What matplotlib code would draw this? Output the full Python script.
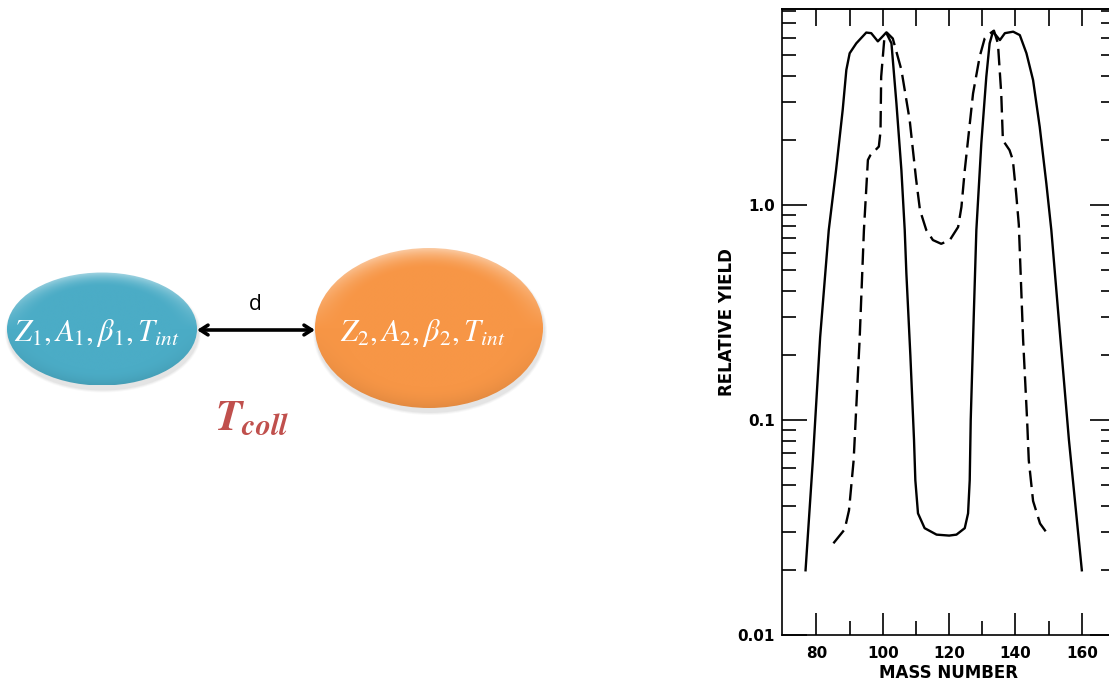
import numpy as np
import matplotlib
matplotlib.use("Agg")
import matplotlib.pyplot as plt
from matplotlib.patches import Ellipse
from matplotlib.ticker import FixedLocator, LogLocator, NullFormatter
import matplotlib.colors as mcolors

plt.rcParams['mathtext.fontset'] = 'stix'

# ---- data ----
solid_mass = [76.7, 78.9, 81.1, 83.7, 85.9, 87.9, 89.0, 90.0, 92.0, 95.0, 96.5,
              98.5, 100.0, 101.0, 102.6, 104.1, 105.6, 106.6, 107.1, 108.3,
              109.4, 109.8, 110.6, 112.6, 116.2, 120.0, 122.2, 124.7, 125.7,
              126.2, 126.5, 127.4, 128.2, 129.7, 131.2, 132.2, 133.2, 135.3,
              136.8, 139.3, 141.3, 143.3, 145.3, 147.3, 149.3, 150.8, 153.0,
              156.1, 160.0]
solid_yield = [0.02, 0.065, 0.243, 0.765, 1.455, 2.77, 4.25, 5.08, 5.65, 6.34,
               6.3, 5.77, 6.1, 6.34, 5.65, 2.97, 1.45, 0.765, 0.48, 0.2,
               0.081, 0.0525, 0.0368, 0.0314, 0.0293, 0.029, 0.0293, 0.0314,
               0.0368, 0.0525, 0.1, 0.3, 0.765, 1.94, 3.95, 5.65, 6.4, 5.85,
               6.3, 6.4, 6.17, 5.08, 3.81, 2.31, 1.26, 0.765, 0.3,
               0.081, 0.02]

dash_mass = [85.1, 88.5, 89.8, 91.2, 93.0, 94.3, 95.5, 96.2, 98.8, 99.3, 99.5,
             100.5, 101.2, 103.0, 105.6, 108.1, 110.0, 111.2, 113.1, 115.1,
             117.6, 120.2, 122.7, 123.7, 124.7, 127.2, 129.2, 130.7, 131.8,
             133.5, 134.7, 135.7, 136.2, 138.2, 139.2, 140.2, 141.0, 142.3,
             143.5, 144.0, 145.3, 147.4, 150.3]
dash_yield = [0.0267, 0.031, 0.038, 0.065, 0.236, 0.765, 1.62, 1.7, 1.87, 2.2,
              3.95, 6.06, 6.34, 5.95, 4.25, 2.48, 1.33, 0.947, 0.765, 0.687,
              0.66, 0.687, 0.79, 0.98, 1.45, 3.3, 4.9, 5.95, 6.2,
              6.47, 5.65, 3.3, 2.0, 1.8, 1.62, 1.13, 0.81, 0.236,
              0.1, 0.065, 0.042, 0.033, 0.0286]

x_major = [80, 100, 120, 140, 160]
x_minor = [90, 110, 130, 150]
x_top = [80, 90, 100, 110, 120, 130, 140, 150, 160]
y_major = [0.01, 0.1, 1.0]
y_major_labels = ['0.01', '0.1', '1.0']

W, H = 1109, 682
fig = plt.figure(figsize=(W / 100, H / 100), dpi=100)

# ---- left: nuclei sketch, drawn in pixel coordinates ----
bg = fig.add_axes([0, 0, 1, 1])
bg.axis('off')


def shaded_ellipse(ax, cx, cy, w, h, base):
    # soft shadow under the body
    for k, a in [(6, 0.05), (4, 0.07), (2, 0.09)]:
        ax.add_patch(Ellipse((cx + 1, cy + 4), w + k, h + k, color='gray',
                             alpha=a, lw=0, zorder=1))
    n = 300
    xs = np.linspace(-1, 1, n)
    X, Y = np.meshgrid(xs, xs)
    r = np.sqrt(X ** 2 + Y ** 2)
    rim = np.clip((r - 0.75) / 0.25, 0, 1) ** 1.6
    rgb = np.array(mcolors.to_rgb(base))
    img = np.ones((n, n, 3)) * rgb
    light = (rim * np.clip(-Y, 0, 1) * 0.5)[..., None]
    dark = (rim * np.clip(Y, 0, 1) * 0.08)[..., None]
    img = img + (1 - img) * light
    img = img * (1 - dark)
    el = Ellipse((cx, cy), w, h, facecolor='none', edgecolor='none', zorder=2)
    ax.add_patch(el)
    im = ax.imshow(img, extent=(cx - w / 2, cx + w / 2, cy + h / 2, cy - h / 2),
                   origin='upper', interpolation='bilinear', zorder=2)
    im.set_clip_path(el)


shaded_ellipse(bg, 102, 329, 190, 113, '#4BACC6')
shaded_ellipse(bg, 429, 328, 228, 160, '#F79646')
bg.set_aspect('auto')
bg.set_xlim(0, W)
bg.set_ylim(H, 0)

bg.text(97, 333, r'$Z_1,A_1,\beta_1,T_{int}$', color='white', fontsize=22,
        ha='center', va='center', zorder=3)
bg.text(423, 333, r'$Z_2,A_2,\beta_2,T_{int}$', color='white', fontsize=22,
        ha='center', va='center', zorder=3)
bg.annotate('', xy=(197, 330), xytext=(315, 330),
            arrowprops=dict(arrowstyle='<->,head_length=0.55,head_width=0.35',
                            lw=2.6, color='black', shrinkA=0, shrinkB=0))
bg.text(255, 305, 'd', fontsize=15, family='Open Sans', ha='center', va='center')
bg.text(252, 418, r'$\mathbfit{T}_{\mathbfit{coll}}$', color='#C0504D',
        fontsize=31, ha='center', va='center')

# ---- right: relative yield vs mass number ----
ax = fig.add_axes([782 / W, 1 - 635 / H, 333 / W, 626 / H])
ax.set_yscale('log')
ax.plot(solid_mass, solid_yield, color='black', lw=1.7)
ax.plot(dash_mass, dash_yield, color='black', lw=1.7, dashes=(7, 3))
ax.set_xlim(69.6, 170)
ax.set_ylim(0.01, 8.16)

ax.spines['right'].set_visible(False)
for s in ['left', 'bottom', 'top']:
    ax.spines[s].set_linewidth(1.2)

ax.xaxis.set_major_locator(FixedLocator(x_major))
ax.xaxis.set_minor_locator(FixedLocator(x_minor))
ax.yaxis.set_major_locator(FixedLocator(y_major))
ax.yaxis.set_minor_locator(LogLocator(base=10, subs=np.arange(2, 10)))
ax.yaxis.set_minor_formatter(NullFormatter())
ax.set_yticklabels(y_major_labels)

ax.tick_params(axis='x', which='major', direction='in', length=16, width=1.2,
               pad=8, labelsize=11, top=False)
ax.tick_params(axis='x', which='minor', direction='in', length=10, width=1.2,
               top=False)
ax.tick_params(axis='y', which='major', direction='in', length=18, width=1.2,
               pad=5, labelsize=11, right=True)
ax.tick_params(axis='y', which='minor', direction='in', length=10, width=1.2,
               right=True)
for lab in ax.get_xticklabels() + ax.get_yticklabels():
    lab.set_fontweight('bold')

top = ax.secondary_xaxis('top')
top.set_xticks(x_top)
top.set_xticklabels([])
top.tick_params(direction='in', length=12, width=1.2)
top.spines['top'].set_linewidth(1.2)

ax.set_xlabel('MASS NUMBER', fontsize=12, fontweight='bold', labelpad=2)
ax.set_ylabel('RELATIVE YIELD', fontsize=12, fontweight='bold', labelpad=1)

fig.savefig('out.png', dpi=100)
